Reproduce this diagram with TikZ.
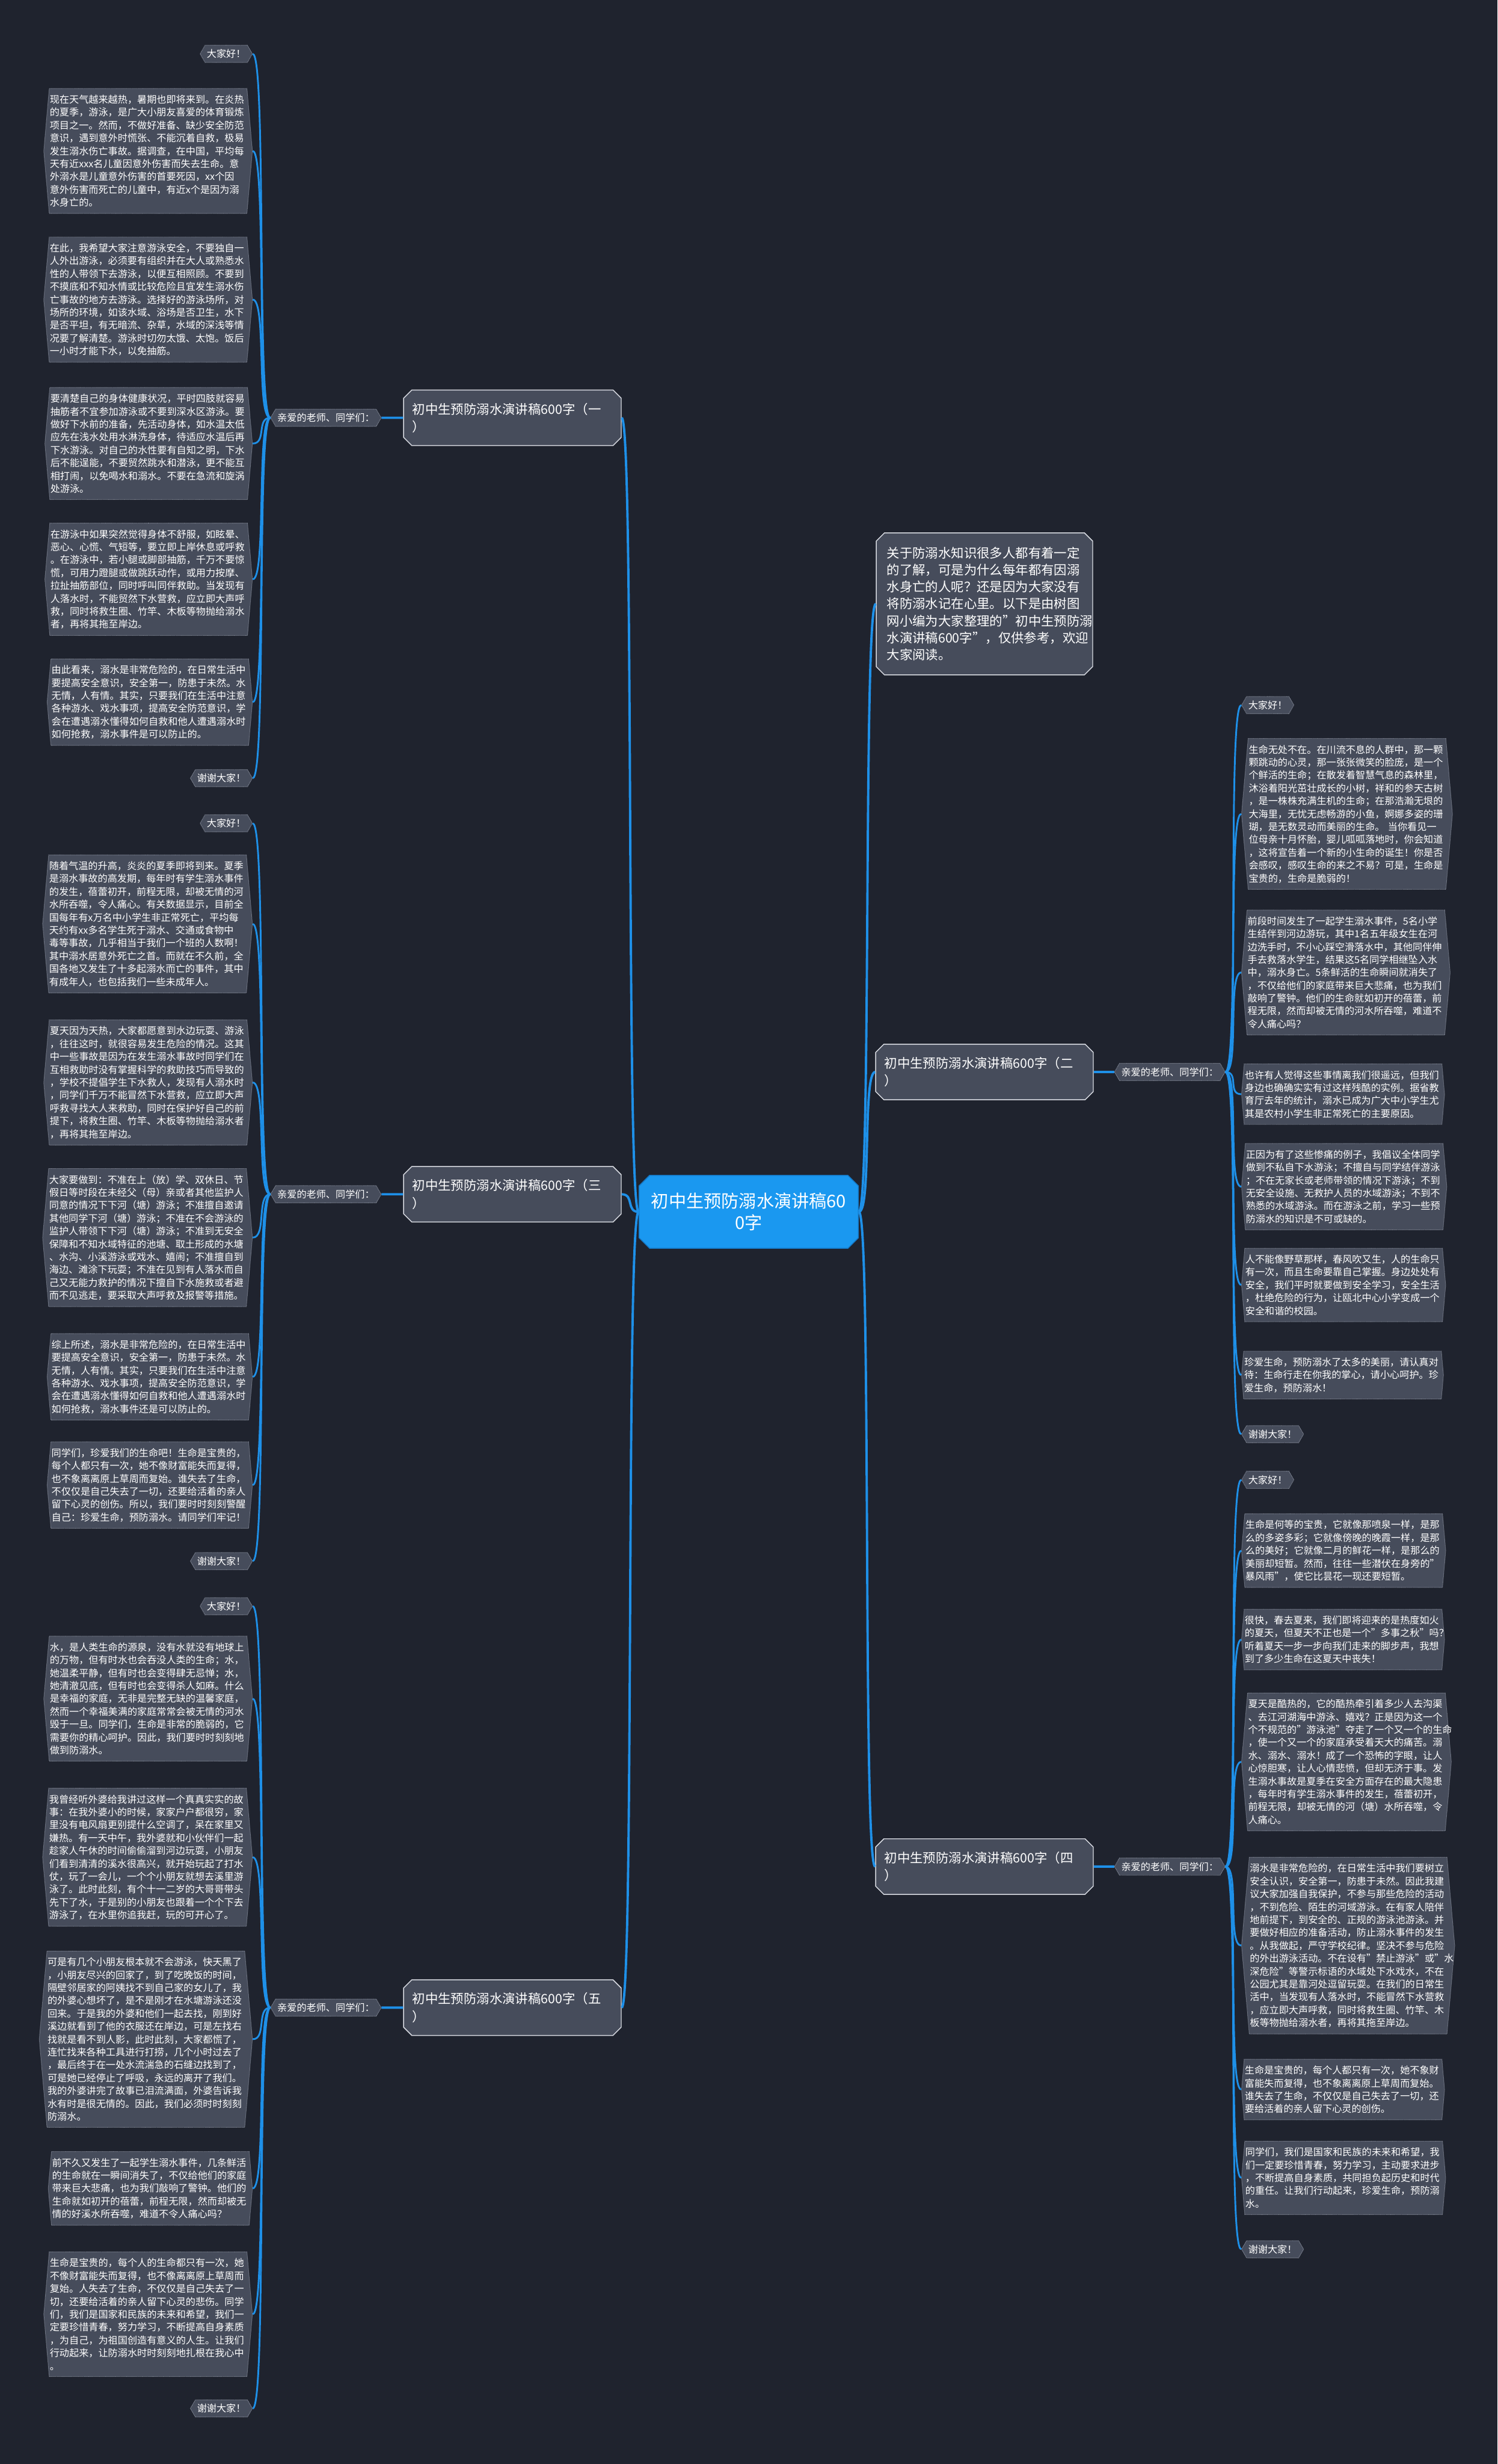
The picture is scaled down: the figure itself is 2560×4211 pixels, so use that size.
\documentclass[tikz,border=0pt]{standalone}
\usepackage{fontspec}
\setmainfont{Noto Sans CJK SC}
\usetikzlibrary{positioning, shapes.misc, shapes.symbols}
\definecolor{bgDark}{HTML}{1F232E}
\definecolor{cardFill}{HTML}{464C5B}
\definecolor{cardEdge}{HTML}{8E94A2}
\definecolor{branchEdge}{HTML}{D8DBE2}
\definecolor{rootBlue}{HTML}{1A98F0}
\definecolor{rootEdge}{HTML}{1577C4}
\definecolor{linkBlue}{HTML}{1E90E8}
\newcommand{\leaffont}{\fontsize{16.6}{22}\selectfont}
\newcommand{\branchfont}{\fontsize{22}{30}\selectfont}
\newcommand{\rootfont}{\fontsize{30}{37}\selectfont}
\tikzset{
  leafcard/.style={signal, signal to=west and east, signal pointer angle=170, fill=cardFill, draw=cardEdge, densely dotted, line width=1pt, text=white, font=\leaffont, align=left, text width=336pt, inner xsep=1pt, inner ysep=11pt},
  tagcard/.style={signal, signal to=west and east, signal pointer angle=120, fill=cardFill, draw=cardEdge, densely dotted, line width=1pt, text=white, font=\leaffont, inner xsep=3pt, inner ysep=7pt},
  branchcard/.style={chamfered rectangle, chamfered rectangle xsep=6pt, chamfered rectangle ysep=8pt, fill=cardFill, draw=branchEdge, line width=1.5pt, text=white, font=\branchfont, align=left, text width=342pt, inner xsep=9pt, inner ysep=14pt},
  introcard/.style={branchcard, text width=334pt, inner xsep=12pt, inner ysep=16pt, font={\fontsize{22}{29}\selectfont}},
  rootcard/.style={chamfered rectangle, chamfered rectangle xsep=8pt, chamfered rectangle ysep=10pt, fill=rootBlue, draw=rootEdge, line width=1.5pt, text=white, font=\rootfont, align=center, text width=335pt, inner xsep=12pt, inner ysep=20pt},
  trunk/.style={draw=linkBlue, line width=4pt},
  twig/.style={draw=linkBlue, line width=3pt},
}

\begin{document}
\begin{tikzpicture}[x=1pt, y=-1pt]
  \fill[bgDark] (0,0) rectangle (2560,4211);
  \useasboundingbox (0,0) rectangle (2560,4211);

  % centre and first level
  \node[rootcard] (root) at (1280,2071) {初中生预防溺水演讲稿60\\0字};
  \node[introcard] (intro) at (1683,1032)
    {关于防溺水知识很多人都有着一定\\的了解，可是为什么每年都有因溺\\水身亡的人呢？还是因为大家没有\\将防溺水记在心里。以下是由树图\\网小编为大家整理的"初中生预防溺\\水演讲稿600字"，仅供参考，欢迎\\大家阅读。};
  \node[branchcard] (b1) at (876,714) {初中生预防溺水演讲稿600字（一\\）};
  \node[branchcard] (b2) at (1683,1832) {初中生预防溺水演讲稿600字（二\\）};
  \node[branchcard] (b3) at (876,2041) {初中生预防溺水演讲稿600字（三\\）};
  \node[branchcard] (b4) at (1683,3190) {初中生预防溺水演讲稿600字（四\\）};
  \node[branchcard] (b5) at (876,3431) {初中生预防溺水演讲稿600字（五\\）};

  \node[tagcard, left=37pt of b1] (s1) {亲爱的老师、同学们：};
  \node[tagcard, right=35pt of b2] (s2) {亲爱的老师、同学们：};
  \node[tagcard, left=37pt of b3] (s3) {亲爱的老师、同学们：};
  \node[tagcard, right=35pt of b4] (s4) {亲爱的老师、同学们：};
  \node[tagcard, left=37pt of b5] (s5) {亲爱的老师、同学们：};

  % speech one
  \node[tagcard, anchor=east] (h1a) at (432,92) {大家好！};
  \node[leafcard, anchor=east] (l1a) at (432,258)
    {现在天气越来越热，暑期也即将来到。在炎热\\的夏季，游泳，是广大小朋友喜爱的体育锻炼\\项目之一。然而，不做好准备、缺少安全防范\\意识，遇到意外时慌张、不能沉着自救，极易\\发生溺水伤亡事故。据调查，在中国，平均每\\天有近xxx名儿童因意外伤害而失去生命。意\\外溺水是儿童意外伤害的首要死因，xx个因\\意外伤害而死亡的儿童中，有近x个是因为溺\\水身亡的。};
  \node[leafcard, anchor=east] (l1b) at (432,512)
    {在此，我希望大家注意游泳安全，不要独自一\\人外出游泳，必须要有组织并在大人或熟悉水\\性的人带领下去游泳，以便互相照顾。不要到\\不摸底和不知水情或比较危险且宜发生溺水伤\\亡事故的地方去游泳。选择好的游泳场所，对\\场所的环境，如该水域、浴场是否卫生，水下\\是否平坦，有无暗流、杂草，水域的深浅等情\\况要了解清楚。游泳时切勿太饿、太饱。饭后\\一小时才能下水，以免抽筋。};
  \node[leafcard, anchor=east] (l1c) at (432,758)
    {要清楚自己的身体健康状况，平时四肢就容易\\抽筋者不宜参加游泳或不要到深水区游泳。要\\做好下水前的准备，先活动身体，如水温太低\\应先在浅水处用水淋洗身体，待适应水温后再\\下水游泳。对自己的水性要有自知之明，下水\\后不能逞能，不要贸然跳水和潜泳，更不能互\\相打闹，以免喝水和溺水。不要在急流和旋涡\\处游泳。};
  \node[leafcard, anchor=east] (l1d) at (432,990)
    {在游泳中如果突然觉得身体不舒服，如眩晕、\\恶心、心慌、气短等，要立即上岸休息或呼救\\。在游泳中，若小腿或脚部抽筋，千万不要惊\\慌，可用力蹬腿或做跳跃动作，或用力按摩、\\拉扯抽筋部位，同时呼叫同伴救助。当发现有\\人落水时，不能贸然下水营救，应立即大声呼\\救，同时将救生圈、竹竿、木板等物抛给溺水\\者，再将其拖至岸边。};
  \node[leafcard, anchor=east] (l1e) at (432,1200)
    {由此看来，溺水是非常危险的，在日常生活中\\要提高安全意识，安全第一，防患于未然。水\\无情，人有情。其实，只要我们在生活中注意\\各种游水、戏水事项，提高安全防范意识，学\\会在遭遇溺水懂得如何自救和他人遭遇溺水时\\如何抢救，溺水事件是可以防止的。};
  \node[tagcard, anchor=east] (t1) at (432,1330) {谢谢大家！};

  % speech three
  \node[tagcard, anchor=east] (h3a) at (432,1407) {大家好！};
  \node[leafcard, anchor=east] (l3a) at (432,1579)
    {随着气温的升高，炎炎的夏季即将到来。夏季\\是溺水事故的高发期，每年时有学生溺水事件\\的发生，蓓蕾初开，前程无限，却被无情的河\\水所吞噬，令人痛心。有关数据显示，目前全\\国每年有x万名中小学生非正常死亡，平均每\\天约有xx多名学生死于溺水、交通或食物中\\毒等事故，几乎相当于我们一个班的人数啊！\\其中溺水居意外死亡之首。而就在不久前，全\\国各地又发生了十多起溺水而亡的事件，其中\\有成年人，也包括我们一些未成年人。};
  \node[leafcard, anchor=east] (l3b) at (432,1850)
    {夏天因为天热，大家都愿意到水边玩耍、游泳\\，往往这时，就很容易发生危险的情况。这其\\中一些事故是因为在发生溺水事故时同学们在\\互相救助时没有掌握科学的救助技巧而导致的\\，学校不提倡学生下水救人，发现有人溺水时\\，同学们千万不能冒然下水营救，应立即大声\\呼救寻找大人来救助，同时在保护好自己的前\\提下，将救生圈、竹竿、木板等物抛给溺水者\\，再将其拖至岸边。};
  \node[leafcard, anchor=east] (l3c) at (432,2115)
    {大家要做到：不准在上（放）学、双休日、节\\假日等时段在未经父（母）亲或者其他监护人\\同意的情况下下河（塘）游泳；不准擅自邀请\\其他同学下河（塘）游泳；不准在不会游泳的\\监护人带领下下河（塘）游泳；不准到无安全\\保障和不知水域特征的池塘、取土形成的水塘\\、水沟、小溪游泳或戏水、嬉闹；不准擅自到\\海边、滩涂下玩耍；不准在见到有人落水而自\\己又无能力救护的情况下擅自下水施救或者避\\而不见逃走，要采取大声呼救及报警等措施。};
  \node[leafcard, anchor=east] (l3d) at (432,2353)
    {综上所述，溺水是非常危险的，在日常生活中\\要提高安全意识，安全第一，防患于未然。水\\无情，人有情。其实，只要我们在生活中注意\\各种游水、戏水事项，提高安全防范意识，学\\会在遭遇溺水懂得如何自救和他人遭遇溺水时\\如何抢救，溺水事件还是可以防止的。};
  \node[leafcard, anchor=east] (l3e) at (432,2538)
    {同学们，珍爱我们的生命吧！生命是宝贵的，\\每个人都只有一次，她不像财富能失而复得，\\也不象离离原上草周而复始。谁失去了生命，\\不仅仅是自己失去了一切，还要给活着的亲人\\留下心灵的创伤。所以，我们要时时刻刻警醒\\自己：珍爱生命，预防溺水。请同学们牢记！};
  \node[tagcard, anchor=east] (t3) at (432,2668) {谢谢大家！};

  % speech five
  \node[tagcard, anchor=east] (h5a) at (432,2745) {大家好！};
  \node[leafcard, anchor=east] (l5a) at (432,2903)
    {水，是人类生命的源泉，没有水就没有地球上\\的万物，但有时水也会吞没人类的生命；水，\\她温柔平静，但有时也会变得肆无忌惮；水，\\她清澈见底，但有时也会变得杀人如麻。什么\\是幸福的家庭，无非是完整无缺的温馨家庭，\\然而一个幸福美满的家庭常常会被无情的河水\\毁于一旦。同学们，生命是非常的脆弱的，它\\需要你的精心呵护。因此，我们要时时刻刻地\\做到防溺水。};
  \node[leafcard, anchor=east] (l5b) at (432,3174)
    {我曾经听外婆给我讲过这样一个真真实实的故\\事：在我外婆小的时候，家家户户都很穷，家\\里没有电风扇更别提什么空调了，呆在家里又\\嫌热。有一天中午，我外婆就和小伙伴们一起\\趁家人午休的时间偷偷溜到河边玩耍，小朋友\\们看到清清的溪水很高兴，就开始玩起了打水\\仗，玩了一会儿，一个个小朋友就想去溪里游\\泳了。此时此刻，有个十一二岁的大哥哥带头\\先下了水，于是别的小朋友也跟着一个个下去\\游泳了，在水里你追我赶，玩的可开心了。};
  \node[leafcard, anchor=east] (l5c) at (432,3485)
    {可是有几个小朋友根本就不会游泳，快天黑了\\，小朋友尽兴的回家了，到了吃晚饭的时间，\\隔壁邻居家的阿姨找不到自己家的女儿了，我\\的外婆心想坏了，是不是刚才在水塘游泳还没\\回来。于是我的外婆和他们一起去找，刚到好\\溪边就看到了他的衣服还在岸边，可是左找右\\找就是看不到人影，此时此刻，大家都慌了，\\连忙找来各种工具进行打捞，几个小时过去了\\，最后终于在一处水流湍急的石缝边找到了，\\可是她已经停止了呼吸，永远的离开了我们。\\我的外婆讲完了故事已泪流满面，外婆告诉我\\水有时是很无情的。因此，我们必须时时刻刻\\防溺水。};
  \node[leafcard, anchor=east] (l5d) at (432,3740)
    {前不久又发生了一起学生溺水事件，几条鲜活\\的生命就在一瞬间消失了，不仅给他们的家庭\\带来巨大悲痛，也为我们敲响了警钟。他们的\\生命就如初开的蓓蕾，前程无限，然而却被无\\情的好溪水所吞噬，难道不令人痛心吗？};
  \node[leafcard, anchor=east] (l5e) at (432,3955)
    {生命是宝贵的，每个人的生命都只有一次，她\\不像财富能失而复得，也不像离离原上草周而\\复始。人失去了生命，不仅仅是自己失去了一\\切，还要给活着的亲人留下心灵的悲伤。同学\\们，我们是国家和民族的未来和希望，我们一\\定要珍惜青春，努力学习，不断提高自身素质\\，为自己，为祖国创造有意义的人生。让我们\\行动起来，让防溺水时时刻刻地扎根在我心中\\。};
  \node[tagcard, anchor=east] (t5) at (432,4116) {谢谢大家！};

  % speech two
  \node[tagcard, anchor=west] (h2a) at (2122,1205) {大家好！};
  \node[leafcard, anchor=west] (r2a) at (2122,1391)
    {生命无处不在。在川流不息的人群中，那一颗\\颗跳动的心灵，那一张张微笑的脸庞，是一个\\个鲜活的生命；在散发着智慧气息的森林里，\\沐浴着阳光茁壮成长的小树，祥和的参天古树\\，是一株株充满生机的生命；在那浩瀚无垠的\\大海里，无忧无虑畅游的小鱼，婀娜多姿的珊\\瑚，是无数灵动而美丽的生命。~当你看见一\\位母亲十月怀胎，婴儿呱呱落地时，你会知道\\，这将宣告着一个新的小生命的诞生！你是否\\会感叹，感叹生命的来之不易？可是，生命是\\宝贵的，生命是脆弱的！};
  \node[leafcard, anchor=west] (r2b) at (2122,1662)
    {前段时间发生了一起学生溺水事件，5名小学\\生结伴到河边游玩，其中1名五年级女生在河\\边洗手时，不小心踩空滑落水中，其他同伴伸\\手去救落水学生，结果这5名同学相继坠入水\\中，溺水身亡。5条鲜活的生命瞬间就消失了\\，不仅给他们的家庭带来巨大悲痛，也为我们\\敲响了警钟。他们的生命就如初开的蓓蕾，前\\程无限，然而却被无情的河水所吞噬，难道不\\令人痛心吗？};
  \node[leafcard, anchor=west] (r2c) at (2122,1870)
    {也许有人觉得这些事情离我们很遥远，但我们\\身边也确确实实有过这样残酷的实例。据省教\\育厅去年的统计，溺水已成为广大中小学生尤\\其是农村小学生非正常死亡的主要原因。};
  \node[leafcard, anchor=west] (r2d) at (2122,2028)
    {正因为有了这些惨痛的例子，我倡议全体同学\\做到不私自下水游泳；不擅自与同学结伴游泳\\；不在无家长或老师带领的情况下游泳；不到\\无安全设施、无救护人员的水域游泳；不到不\\熟悉的水域游泳。而在游泳之前，学习一些预\\防溺水的知识是不可或缺的。};
  \node[leafcard, anchor=west] (r2e) at (2122,2196)
    {人不能像野草那样，春风吹又生，人的生命只\\有一次，而且生命要靠自己掌握。身边处处有\\安全，我们平时就要做到安全学习，安全生活\\，杜绝危险的行为，让瓯北中心小学变成一个\\安全和谐的校园。};
  \node[leafcard, anchor=west] (r2f) at (2122,2350)
    {珍爱生命，预防溺水了太多的美丽，请认真对\\待：生命行走在你我的掌心，请小心呵护。珍\\爱生命，预防溺水！};
  \node[tagcard, anchor=west] (t2) at (2122,2451) {谢谢大家！};

  % speech four
  \node[tagcard, anchor=west] (h4a) at (2122,2529) {大家好！};
  \node[leafcard, anchor=west] (r4a) at (2122,2650)
    {生命是何等的宝贵，它就像那喷泉一样，是那\\么的多姿多彩；它就像傍晚的晚霞一样，是那\\么的美好；它就像二月的鲜花一样，是那么的\\美丽却短暂。然而，往往一些潜伏在身旁的"\\暴风雨"，使它比昙花一现还要短暂。};
  \node[leafcard, anchor=west] (r4b) at (2122,2802)
    {很快，春去夏来，我们即将迎来的是热度如火\\的夏天，但夏天不正也是一个"多事之秋"吗？\\听着夏天一步一步向我们走来的脚步声，我想\\到了多少生命在这夏天中丧失！};
  \node[leafcard, anchor=west] (r4c) at (2122,3011)
    {夏天是酷热的，它的酷热牵引着多少人去沟渠\\、去江河湖海中游泳、嬉戏？正是因为这一个\\个不规范的"游泳池"夺走了一个又一个的生命\\，使一个又一个的家庭承受着天大的痛苦。溺\\水、溺水、溺水！成了一个恐怖的字眼，让人\\心惊胆寒，让人心情悲愤，但却无济于事。发\\生溺水事故是夏季在安全方面存在的最大隐患\\，每年时有学生溺水事件的发生，蓓蕾初开，\\前程无限，却被无情的河（塘）水所吞噬，令\\人痛心。};
  \node[leafcard, anchor=west] (r4d) at (2122,3325)
    {溺水是非常危险的，在日常生活中我们要树立\\安全认识，安全第一，防患于未然。因此我建\\议大家加强自我保护，不参与那些危险的活动\\，不到危险、陌生的河域游泳。在有家人陪伴\\地前提下，到安全的、正规的游泳池游泳。并\\要做好相应的准备活动，防止溺水事件的发生\\。从我做起，严守学校纪律。坚决不参与危险\\的外出游泳活动。不在设有"禁止游泳"或"水\\深危险"等警示标语的水域处下水戏水，不在\\公园尤其是靠河处逗留玩耍。在我们的日常生\\活中，当发现有人落水时，不能冒然下水营救\\，应立即大声呼救，同时将救生圈、竹竿、木\\板等物抛给溺水者，再将其拖至岸边。};
  \node[leafcard, anchor=west] (r4e) at (2122,3571)
    {生命是宝贵的，每个人都只有一次，她不象财\\富能失而复得，也不象离离原上草周而复始。\\谁失去了生命，不仅仅是自己失去了一切，还\\要给活着的亲人留下心灵的创伤。};
  \node[leafcard, anchor=west] (r4f) at (2122,3722)
    {同学们，我们是国家和民族的未来和希望，我\\们一定要珍惜青春，努力学习，主动要求进步\\，不断提高自身素质，共同担负起历史和时代\\的重任。让我们行动起来，珍爱生命，预防溺\\水。};
  \node[tagcard, anchor=west] (t4) at (2122,3844) {谢谢大家！};

  % links
  \draw[trunk] (root.west) .. controls +(-22,0) and +(22,0) .. (b1.east);
  \draw[trunk] (root.west) .. controls +(-22,0) and +(22,0) .. (b3.east);
  \draw[trunk] (root.west) .. controls +(-22,0) and +(22,0) .. (b5.east);
  \draw[trunk] (root.east) .. controls +(22,0) and +(-22,0) .. (intro.west);
  \draw[trunk] (root.east) .. controls +(22,0) and +(-22,0) .. (b2.west);
  \draw[trunk] (root.east) .. controls +(22,0) and +(-22,0) .. (b4.west);
  \draw[trunk] (b1) -- (s1); \draw[trunk] (b2) -- (s2); \draw[trunk] (b3) -- (s3);
  \draw[trunk] (b4) -- (s4); \draw[trunk] (b5) -- (s5);

  \draw[twig] (s1.west) .. controls +(-24,0) and +(24,0) .. (h1a.east);
  \draw[twig] (s1.west) .. controls +(-24,0) and +(24,0) .. (l1a.east);
  \draw[twig] (s1.west) .. controls +(-24,0) and +(24,0) .. (l1b.east);
  \draw[twig] (s1.west) .. controls +(-24,0) and +(24,0) .. (l1c.east);
  \draw[twig] (s1.west) .. controls +(-24,0) and +(24,0) .. (l1d.east);
  \draw[twig] (s1.west) .. controls +(-24,0) and +(24,0) .. (l1e.east);
  \draw[twig] (s1.west) .. controls +(-24,0) and +(24,0) .. (t1.east);

  \draw[twig] (s3.west) .. controls +(-24,0) and +(24,0) .. (h3a.east);
  \draw[twig] (s3.west) .. controls +(-24,0) and +(24,0) .. (l3a.east);
  \draw[twig] (s3.west) .. controls +(-24,0) and +(24,0) .. (l3b.east);
  \draw[twig] (s3.west) .. controls +(-24,0) and +(24,0) .. (l3c.east);
  \draw[twig] (s3.west) .. controls +(-24,0) and +(24,0) .. (l3d.east);
  \draw[twig] (s3.west) .. controls +(-24,0) and +(24,0) .. (l3e.east);
  \draw[twig] (s3.west) .. controls +(-24,0) and +(24,0) .. (t3.east);

  \draw[twig] (s5.west) .. controls +(-24,0) and +(24,0) .. (h5a.east);
  \draw[twig] (s5.west) .. controls +(-24,0) and +(24,0) .. (l5a.east);
  \draw[twig] (s5.west) .. controls +(-24,0) and +(24,0) .. (l5b.east);
  \draw[twig] (s5.west) .. controls +(-24,0) and +(24,0) .. (l5c.east);
  \draw[twig] (s5.west) .. controls +(-24,0) and +(24,0) .. (l5d.east);
  \draw[twig] (s5.west) .. controls +(-24,0) and +(24,0) .. (l5e.east);
  \draw[twig] (s5.west) .. controls +(-24,0) and +(24,0) .. (t5.east);

  \draw[twig] (s2.east) .. controls +(24,0) and +(-24,0) .. (h2a.west);
  \draw[twig] (s2.east) .. controls +(24,0) and +(-24,0) .. (r2a.west);
  \draw[twig] (s2.east) .. controls +(24,0) and +(-24,0) .. (r2b.west);
  \draw[twig] (s2.east) .. controls +(24,0) and +(-24,0) .. (r2c.west);
  \draw[twig] (s2.east) .. controls +(24,0) and +(-24,0) .. (r2d.west);
  \draw[twig] (s2.east) .. controls +(24,0) and +(-24,0) .. (r2e.west);
  \draw[twig] (s2.east) .. controls +(24,0) and +(-24,0) .. (r2f.west);
  \draw[twig] (s2.east) .. controls +(24,0) and +(-24,0) .. (t2.west);

  \draw[twig] (s4.east) .. controls +(24,0) and +(-24,0) .. (h4a.west);
  \draw[twig] (s4.east) .. controls +(24,0) and +(-24,0) .. (r4a.west);
  \draw[twig] (s4.east) .. controls +(24,0) and +(-24,0) .. (r4b.west);
  \draw[twig] (s4.east) .. controls +(24,0) and +(-24,0) .. (r4c.west);
  \draw[twig] (s4.east) .. controls +(24,0) and +(-24,0) .. (r4d.west);
  \draw[twig] (s4.east) .. controls +(24,0) and +(-24,0) .. (r4e.west);
  \draw[twig] (s4.east) .. controls +(24,0) and +(-24,0) .. (r4f.west);
  \draw[twig] (s4.east) .. controls +(24,0) and +(-24,0) .. (t4.west);
\end{tikzpicture}
\end{document}
